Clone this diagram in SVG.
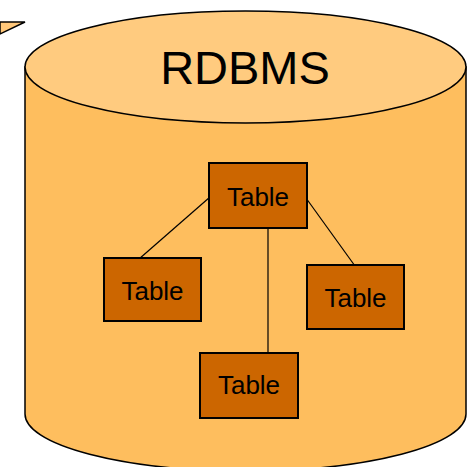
<svg xmlns="http://www.w3.org/2000/svg" width="468" height="467" viewBox="0 0 468 467">
  <style>
    .outline { stroke: #000; stroke-width: 1.5; }
    .table rect { fill: #CC6600; stroke: #000; stroke-width: 2; }
    .table text { font-family: "Liberation Sans", Arial, sans-serif; font-size: 26px; fill: #000; text-anchor: middle; }
    .link { stroke: #000; stroke-width: 1.2; fill: none; }
  </style>
  <rect width="468" height="467" fill="#fff"/>
  <!-- callout pointer -->
  <polygon points="0,22 25,22 0,34" fill="#FFC77A" class="outline"/>
  <!-- database cylinder -->
  <g id="rdbms">
    <path d="M25,67 L25,414 A220.5,57 0 0 0 466,414 L466,67 Z" fill="#FEBE5E" class="outline"/>
    <ellipse cx="245.5" cy="67" rx="220.5" ry="56" fill="#FFCB7F" class="outline"/>
    <text x="245" y="84" font-family="Liberation Sans, Arial, sans-serif" font-size="47" text-anchor="middle" fill="#000">RDBMS</text>
  </g>
  <g id="connectors">
    <line class="link" x1="210" y1="197" x2="139" y2="259"/>
    <line class="link" x1="306" y1="198" x2="355" y2="266"/>
    <line class="link" x1="268" y1="228" x2="268" y2="354"/>
  </g>
  <g id="table-top" class="table">
    <rect x="209" y="163" width="98" height="65"/>
    <text x="258" y="206">Table</text>
  </g>
  <g id="table-left" class="table">
    <rect x="104" y="258" width="97" height="63"/>
    <text x="152.5" y="300">Table</text>
  </g>
  <g id="table-right" class="table">
    <rect x="307" y="265" width="97" height="64"/>
    <text x="355.5" y="307">Table</text>
  </g>
  <g id="table-bottom" class="table">
    <rect x="200" y="353" width="98" height="65"/>
    <text x="249" y="394">Table</text>
  </g>
</svg>
